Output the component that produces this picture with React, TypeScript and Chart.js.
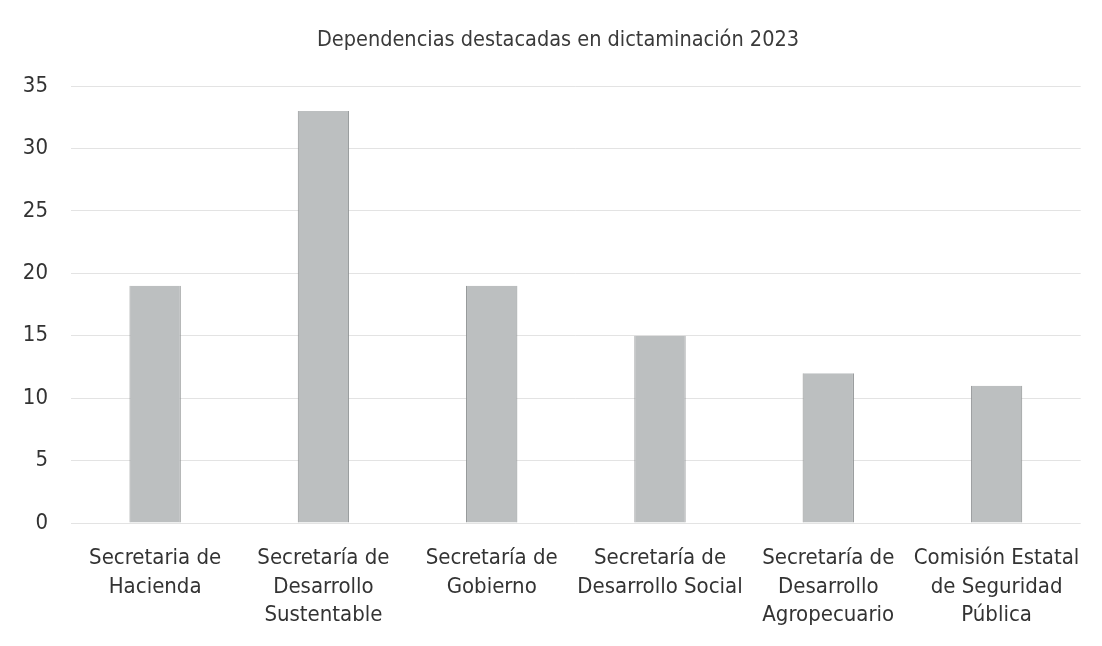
import React, { useEffect, useRef } from "react";
import { Chart, registerables } from "chart.js";

Chart.register(...registerables);

const chartTitle = "Dependencias destacadas en dictaminación 2023";
const categories: string[][] = [
  ["Secretaria de", "Hacienda"],
  ["Secretaría de", "Desarrollo", "Sustentable"],
  ["Secretaría de", "Gobierno"],
  ["Secretaría de", "Desarrollo Social"],
  ["Secretaría de", "Desarrollo", "Agropecuario"],
  ["Comisión Estatal", "de Seguridad", "Pública"],
];
const values: number[] = [19, 33, 19, 15, 12, 11];
const yMin = 0;
const yMax = 35;
const yStep = 5;

const FONT = "'Liberation Sans Narrow', 'DejaVu Sans Condensed', Arial, sans-serif";

const titlePlugin = {
  id: "customTitle",
  afterDraw(chart: any) {
    const ctx = chart.ctx;
    ctx.save();
    ctx.font = `normal 21.5px ${FONT}`;
    ctx.fillStyle = "#3a3a3a";
    ctx.textAlign = "center";
    ctx.textBaseline = "middle";
    ctx.fillText(chartTitle, 558, 40);
    ctx.restore();
  },
};

export default function App() {
  const ref = useRef<HTMLCanvasElement | null>(null);

  useEffect(() => {
    if (!ref.current) return;
    const chart = new Chart(ref.current, {
      type: "bar",
      data: {
        labels: categories,
        datasets: [
          {
            data: values,
            backgroundColor: "#bcbfc0",
            borderColor: "#8e9192",
            borderWidth: { top: 0, left: 1, right: 1, bottom: 0 },
            barPercentage: 0.305,
            categoryPercentage: 1,
          },
        ],
      },
      plugins: [titlePlugin],
      options: {
        responsive: false,
        animation: false,
        devicePixelRatio: 1,
        layout: { padding: { left: 0, right: 20, top: 86, bottom: 0 } },
        plugins: {
          legend: { display: false },
          tooltip: { enabled: false },
          title: { display: false },
        },
        scales: {
          x: {
            grid: { display: false, drawTicks: false },
            border: { display: false },
            ticks: {
              color: "#333333",
              font: { family: FONT, size: 22, lineHeight: 1.3 },
              padding: 21,
              maxRotation: 0,
              autoSkip: false,
            },
            afterFit: (scale: any) => {
              scale.height = 123;
            },
          },
          y: {
            min: yMin,
            max: yMax,
            grid: { color: "#e3e3e3", lineWidth: 1, drawTicks: false },
            border: { display: false },
            ticks: {
              stepSize: yStep,
              color: "#333333",
              font: { family: FONT, size: 22 },
              padding: 23,
            },
            afterFit: (scale: any) => {
              scale.width = 71;
            },
          },
        },
      },
    });
    return () => chart.destroy();
  }, []);

  return (
    <div style={{ position: "absolute", left: 0, top: 0, width: 1102, height: 646, background: "#ffffff" }}>
      <canvas ref={ref} width={1102} height={646} style={{ width: 1102, height: 646 }} />
    </div>
  );
}
